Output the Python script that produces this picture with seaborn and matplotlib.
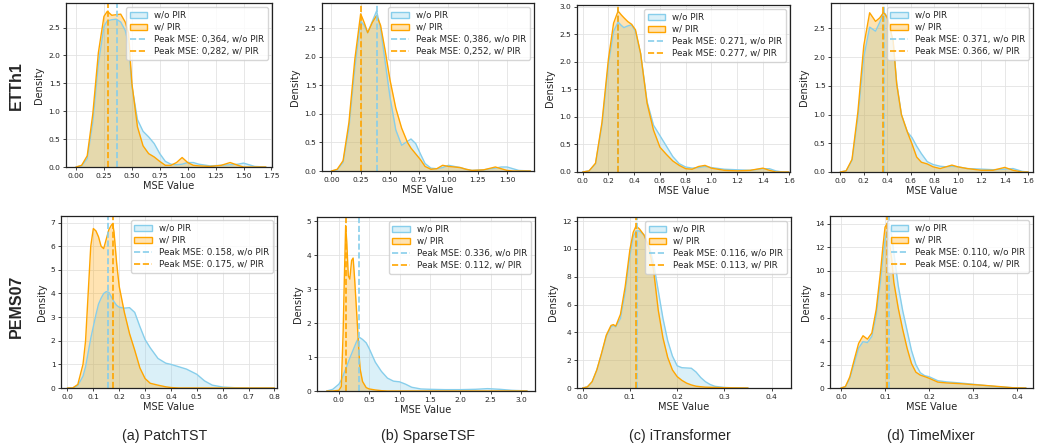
import numpy as np
import pandas as pd
import matplotlib
matplotlib.use("Agg")
import matplotlib.pyplot as plt
import seaborn as sns
from matplotlib.patches import Patch
from matplotlib.lines import Line2D
from matplotlib.colors import to_rgba
from matplotlib.ticker import MultipleLocator

# ---------------- data (densities) ----------------
models = ["PatchTST", "SparseTSF", "iTransformer", "TimeMixer"]
captions = ["(a) PatchTST", "(b) SparseTSF", "(c) iTransformer", "(d) TimeMixer"]
datasets = ["ETTh1", "PEMS07"]
series_labels = ["w/o PIR", "w/ PIR"]

# ETTh1 / PatchTST
x_etth1_patchtst = [0.0, 0.05, 0.1, 0.15, 0.2, 0.25, 0.28, 0.32, 0.36, 0.4, 0.44, 0.47, 0.5, 0.55, 0.6,
                    0.65, 0.7, 0.75, 0.8, 0.85, 0.9, 0.95, 1.0, 1.05, 1.1, 1.2, 1.3, 1.38, 1.45, 1.5,
                    1.55, 1.6, 1.7]
wo_etth1_patchtst = [0.0, 0.02, 0.15, 0.8, 1.85, 2.52, 2.62, 2.64, 2.65, 2.6, 2.45, 2.2, 1.45, 0.85, 0.64,
                     0.54, 0.42, 0.24, 0.1, 0.05, 0.04, 0.05, 0.08, 0.08, 0.05, 0.02, 0.03, 0.04, 0.05, 0.07,
                     0.04, 0.01, 0.0]
w_etth1_patchtst = [0.0, 0.03, 0.2, 0.95, 2.05, 2.7, 2.79, 2.72, 2.73, 2.74, 2.6, 2.4, 1.5, 0.72, 0.38,
                    0.24, 0.18, 0.1, 0.03, 0.03, 0.08, 0.17, 0.08, 0.03, 0.02, 0.01, 0.03, 0.08, 0.03, 0.0,
                    0.0, 0.0, 0.0]

# ETTh1 / SparseTSF
x_etth1_sparsetsf = [0.0, 0.05, 0.1, 0.15, 0.2, 0.25, 0.28, 0.31, 0.35, 0.386, 0.42, 0.46, 0.5, 0.55, 0.6,
                     0.65, 0.68, 0.72, 0.76, 0.8, 0.85, 0.9, 0.95, 1.0, 1.05, 1.1, 1.15, 1.2, 1.3, 1.4,
                     1.45, 1.5, 1.55, 1.6, 1.7]
wo_etth1_sparsetsf = [0.0, 0.02, 0.15, 0.75, 1.8, 2.62, 2.55, 2.42, 2.62, 2.8, 2.5, 1.9, 1.3, 0.72, 0.45,
                      0.52, 0.56, 0.48, 0.3, 0.13, 0.05, 0.04, 0.06, 0.1, 0.08, 0.06, 0.03, 0.01, 0.02, 0.05,
                      0.07, 0.07, 0.04, 0.01, 0.0]
w_etth1_sparsetsf = [0.0, 0.03, 0.18, 0.85, 1.95, 2.75, 2.6, 2.42, 2.6, 2.72, 2.55, 2.1, 1.6, 1.1, 0.75,
                     0.5, 0.4, 0.3, 0.2, 0.08, 0.03, 0.04, 0.1, 0.08, 0.07, 0.06, 0.03, 0.01, 0.02, 0.07,
                     0.04, 0.01, 0.0, 0.0, 0.0]

# ETTh1 / iTransformer
x_etth1_itrans = [0.0, 0.05, 0.1, 0.15, 0.2, 0.24, 0.275, 0.3, 0.32, 0.35, 0.38, 0.41, 0.45, 0.5, 0.55,
                  0.6, 0.65, 0.7, 0.75, 0.8, 0.85, 0.9, 0.95, 1.0, 1.1, 1.2, 1.3, 1.4, 1.45, 1.5,
                  1.55, 1.6]
wo_etth1_itrans = [0.0, 0.02, 0.15, 0.85, 1.95, 2.55, 2.72, 2.66, 2.62, 2.65, 2.67, 2.55, 2.15, 1.28, 0.85,
                   0.66, 0.47, 0.28, 0.15, 0.09, 0.07, 0.08, 0.1, 0.08, 0.05, 0.04, 0.03, 0.06, 0.06, 0.02,
                   0.0, 0.0]
w_etth1_itrans = [0.0, 0.02, 0.16, 0.9, 2.05, 2.7, 2.92, 2.85, 2.8, 2.73, 2.68, 2.58, 2.15, 1.25, 0.76,
                  0.45, 0.32, 0.2, 0.12, 0.06, 0.05, 0.1, 0.12, 0.07, 0.03, 0.02, 0.03, 0.07, 0.03, 0.0,
                  0.0, 0.0]

# ETTh1 / TimeMixer
x_etth1_timemixer = [0.0, 0.05, 0.1, 0.15, 0.2, 0.25, 0.3, 0.335, 0.37, 0.4, 0.45, 0.48, 0.52, 0.57, 0.61,
                     0.65, 0.69, 0.74, 0.79, 0.85, 0.9, 0.95, 1.0, 1.08, 1.2, 1.3, 1.4, 1.47, 1.55, 1.6]
wo_etth1_timemixer = [0.0, 0.02, 0.2, 0.95, 2.0, 2.52, 2.45, 2.6, 2.78, 2.7, 2.25, 1.55, 1.0, 0.7, 0.6,
                      0.45, 0.32, 0.18, 0.13, 0.1, 0.09, 0.1, 0.09, 0.06, 0.05, 0.04, 0.05, 0.06, 0.01, 0.0]
w_etth1_timemixer = [0.0, 0.02, 0.22, 1.05, 2.2, 2.77, 2.62, 2.68, 2.78, 2.68, 2.28, 1.53, 1.0, 0.7, 0.49,
                     0.26, 0.17, 0.14, 0.09, 0.06, 0.09, 0.12, 0.09, 0.06, 0.03, 0.03, 0.08, 0.03, 0.0, 0.0]

# PEMS07 / PatchTST
x_pems07_patchtst = [0.0, 0.02, 0.04, 0.06, 0.07, 0.08, 0.09, 0.1, 0.11, 0.12, 0.13, 0.14, 0.15, 0.16, 0.17,
                     0.175, 0.18, 0.19, 0.2, 0.22, 0.24, 0.26, 0.28, 0.3, 0.32, 0.35, 0.38, 0.4, 0.43, 0.46,
                     0.5, 0.53, 0.56, 0.6, 0.65, 0.7, 0.8]
wo_pems07_patchtst = [0.0, 0.0, 0.1, 0.5, 0.9, 1.5, 2.1, 2.6, 3.1, 3.55, 3.8, 4.0, 4.08, 4.05, 3.85,
                      3.75, 3.65, 3.5, 3.42, 3.38, 3.4, 3.2, 2.6, 2.05, 1.7, 1.25, 1.05, 1.0, 0.9, 0.8,
                      0.58, 0.3, 0.12, 0.04, 0.01, 0.0, 0.0]
w_pems07_patchtst = [0.0, 0.0, 0.15, 1.0, 2.0, 4.0, 6.0, 6.75, 6.65, 6.4, 6.0, 5.9, 6.3, 6.7, 6.9,
                     6.95, 6.6, 5.3, 4.3, 3.2, 2.3, 1.6, 0.85, 0.4, 0.2, 0.12, 0.05, 0.02, 0.0, 0.0,
                     0.0, 0.0, 0.0, 0.0, 0.0, 0.0, 0.0]

# PEMS07 / SparseTSF
x_pems07_sparsetsf = [-0.2, -0.1, 0.0, 0.04, 0.07, 0.09, 0.112, 0.13, 0.155, 0.18, 0.21, 0.235, 0.26, 0.29, 0.32,
                      0.336, 0.35, 0.39, 0.45, 0.5, 0.6, 0.7, 0.8, 0.9, 1.0, 1.1, 1.2, 1.35, 1.5, 1.75,
                      2.0, 2.25, 2.45, 2.65, 2.85, 3.0, 3.1]
wo_pems07_sparsetsf = [0.0, 0.05, 0.2, 0.32, 0.45, 0.55, 0.65, 0.73, 0.85, 0.97, 1.1, 1.21, 1.32, 1.45, 1.55,
                       1.57, 1.57, 1.52, 1.42, 1.25, 0.85, 0.58, 0.38, 0.29, 0.27, 0.2, 0.11, 0.06, 0.05, 0.04,
                       0.04, 0.05, 0.07, 0.05, 0.02, 0.01, 0.0]
w_pems07_sparsetsf = [0.0, 0.0, 0.02, 0.13, 1.7, 3.3, 4.88, 4.4, 3.4, 3.3, 3.85, 3.92, 3.3, 2.4, 1.5,
                      1.0, 0.65, 0.28, 0.1, 0.06, 0.03, 0.01, 0.0, 0.0, 0.0, 0.0, 0.0, 0.0, 0.0, 0.0,
                      0.0, 0.0, 0.0, 0.0, 0.0, 0.0, 0.0]

# PEMS07 / iTransformer
x_pems07_itrans = [0.0, 0.01, 0.02, 0.03, 0.04, 0.05, 0.06, 0.065, 0.07, 0.08, 0.09, 0.1, 0.107, 0.113, 0.12,
                   0.13, 0.14, 0.15, 0.16, 0.17, 0.18, 0.19, 0.2, 0.21, 0.22, 0.23, 0.24, 0.25, 0.26, 0.27,
                   0.28, 0.3, 0.32, 0.35]
wo_pems07_itrans = [0.0, 0.08, 0.45, 1.3, 2.45, 3.7, 4.4, 4.5, 4.4, 5.0, 6.9, 9.5, 10.9, 11.3, 11.3,
                    11.0, 10.3, 9.0, 7.0, 5.0, 3.4, 2.3, 1.6, 1.46, 1.44, 1.42, 1.15, 0.75, 0.45, 0.25,
                    0.12, 0.04, 0.01, 0.0]
w_pems07_itrans = [0.0, 0.08, 0.45, 1.3, 2.5, 3.8, 4.5, 4.56, 4.45, 5.3, 7.3, 9.96, 11.2, 11.65, 11.45,
                   11.0, 10.1, 8.5, 5.6, 3.6, 2.2, 1.3, 0.82, 0.55, 0.35, 0.22, 0.13, 0.09, 0.06, 0.05,
                   0.04, 0.02, 0.01, 0.0]

# PEMS07 / TimeMixer
x_pems07_timemixer = [0.0, 0.01, 0.02, 0.03, 0.04, 0.05, 0.06, 0.07, 0.08, 0.09, 0.095, 0.1, 0.104, 0.11, 0.115,
                      0.12, 0.13, 0.14, 0.15, 0.16, 0.17, 0.18, 0.19, 0.2, 0.22, 0.24, 0.27, 0.3, 0.33, 0.36,
                      0.39, 0.42]
wo_pems07_timemixer = [0.0, 0.1, 0.8, 2.1, 3.4, 3.95, 3.87, 4.4, 6.2, 9.2, 11.0, 12.6, 13.3, 13.75, 13.0,
                       11.5, 8.7, 6.6, 4.9, 3.2, 2.0, 1.3, 1.05, 0.96, 0.62, 0.52, 0.43, 0.32, 0.2, 0.09,
                       0.03, 0.0]
w_pems07_timemixer = [0.0, 0.12, 0.95, 2.4, 3.8, 4.45, 4.16, 4.68, 6.7, 10.0, 12.0, 13.7, 13.95, 12.3, 11.0,
                      9.0, 6.8, 5.0, 3.4, 2.09, 1.35, 1.1, 0.97, 0.83, 0.5, 0.43, 0.37, 0.29, 0.21, 0.12,
                      0.02, 0.0]

# peak MSE values and the way they are printed in each legend
peak_wo = [[0.364, 0.386, 0.271, 0.371], [0.158, 0.336, 0.116, 0.110]]
peak_w = [[0.282, 0.252, 0.277, 0.366], [0.175, 0.112, 0.113, 0.104]]
peak_wo_text = [["0,364", "0,386", "0.271", "0.371"], ["0.158", "0.336", "0.116", "0.110"]]
peak_w_text = [["0,282", "0,252", "0.277", "0.366"], ["0.175", "0.112", "0.113", "0.104"]]

curves = [
    [(x_etth1_patchtst, wo_etth1_patchtst, w_etth1_patchtst),
     (x_etth1_sparsetsf, wo_etth1_sparsetsf, w_etth1_sparsetsf),
     (x_etth1_itrans, wo_etth1_itrans, w_etth1_itrans),
     (x_etth1_timemixer, wo_etth1_timemixer, w_etth1_timemixer)],
    [(x_pems07_patchtst, wo_pems07_patchtst, w_pems07_patchtst),
     (x_pems07_sparsetsf, wo_pems07_sparsetsf, w_pems07_sparsetsf),
     (x_pems07_itrans, wo_pems07_itrans, w_pems07_itrans),
     (x_pems07_timemixer, wo_pems07_timemixer, w_pems07_timemixer)],
]

# ---------------- layout / style ----------------
W, H = 1037, 448
# axes boxes in pixels: left, right, top, bottom
boxes = [
    [(66, 272, 3, 167), (322, 534, 3, 171), (577, 790, 5, 172), (831, 1033, 3, 172)],
    [(61, 277, 216, 388), (317, 535, 217, 391), (577, 791, 217, 388), (830, 1033, 216, 388)],
]
limits = [
    [((-0.09, 1.755), (0, 2.94)), ((-0.08, 1.73), (0, 2.94)), ((-0.044, 1.61), (0, 3.03)), ((-0.079, 1.64), (0, 2.94))],
    [((-0.025, 0.81), (0, 7.28)), ((-0.36, 3.23), (0, 5.13)), ((-0.012, 0.441), (0, 12.3)), ((-0.025, 0.436), (0, 14.65))],
]
xtick_step = [[0.25, 0.25, 0.2, 0.2], [0.1, 0.5, 0.1, 0.1]]
caption_x = [165, 428, 680, 931]
row_label_y = [86, 306]

C_WO = "#87CEEB"
C_W = "#FFA500"

sns.set_style("ticks")
plt.rcParams["font.family"] = ["DejaVu Sans"]

fig = plt.figure(figsize=(W / 100, H / 100), dpi=100)

for r in range(2):
    for c in range(4):
        l, rr, t, b = boxes[r][c]
        ax = fig.add_axes([l / W, 1 - b / H, (rr - l) / W, (b - t) / H])
        xs, ywo, yw = curves[r][c]
        df = pd.DataFrame({"x": xs, "wo": ywo, "w": yw})
        for col, colr in (("wo", C_WO), ("w", C_W)):
            ax.fill_between(df["x"], df[col], color=colr, alpha=0.3, lw=0)
            sns.lineplot(data=df, x="x", y=col, color=colr, lw=1.0, ax=ax)
        ax.axvline(peak_wo[r][c], color=C_WO, ls="--", lw=1.2)
        ax.axvline(peak_w[r][c], color=C_W, ls="--", lw=1.2)
        ax.set_xlim(*limits[r][c][0])
        ax.set_ylim(*limits[r][c][1])
        ax.xaxis.set_major_locator(MultipleLocator(xtick_step[r][c]))
        ax.grid(True, color="#e3e3e3", lw=0.6)
        ax.set_axisbelow(True)
        for sp in ax.spines.values():
            sp.set_color("#222222")
            sp.set_linewidth(0.9)
        ax.tick_params(labelsize=5.4, length=2, width=0.6, pad=2, colors="#222222")
        ax.set_xlabel("MSE Value", fontsize=7.1, labelpad=1.5)
        ax.set_ylabel("Density", fontsize=7.1, labelpad=3)
        handles = [
            Patch(facecolor=to_rgba(C_WO, 0.3), edgecolor=C_WO, lw=1.0, label=series_labels[0]),
            Patch(facecolor=to_rgba(C_W, 0.3), edgecolor=C_W, lw=1.0, label=series_labels[1]),
            Line2D([0], [0], color=C_WO, ls="--", lw=1.2,
                   label=f"Peak MSE: {peak_wo_text[r][c]}, {series_labels[0]}"),
            Line2D([0], [0], color=C_W, ls="--", lw=1.2,
                   label=f"Peak MSE: {peak_w_text[r][c]}, {series_labels[1]}"),
        ]
        ax.legend(handles=handles, loc="upper right", fontsize=6.3, framealpha=0.8,
                  borderpad=0.4, labelspacing=0.35, handlelength=2.0, handletextpad=0.8)

for r, name in enumerate(datasets):
    fig.text(16 / W, 1 - row_label_y[r] / H, name, rotation=90, ha="center", va="center",
             fontsize=11.5, fontweight="bold", family=["Liberation Sans", "DejaVu Sans"])

for c, cap in enumerate(captions):
    fig.text(caption_x[c] / W, 1 - 436 / H, cap, ha="center", va="center",
             fontsize=10.3, family=["Liberation Sans", "DejaVu Sans"])

fig.savefig("out.png", dpi=100)
